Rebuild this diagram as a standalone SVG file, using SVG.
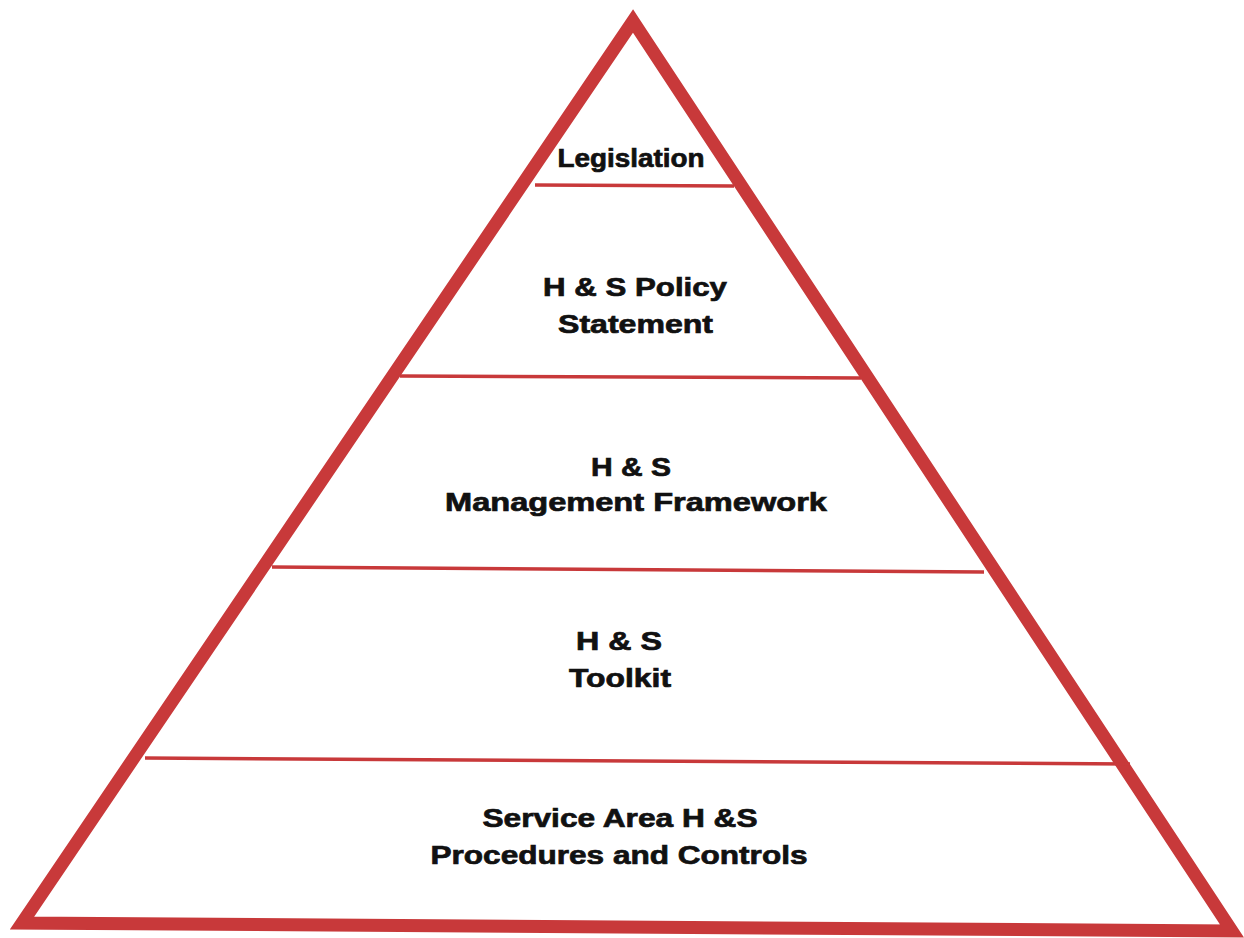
<svg xmlns="http://www.w3.org/2000/svg" width="1244" height="938" viewBox="0 0 1244 938">
<style>
.edge{fill:none;stroke:#c8393a;stroke-width:13;stroke-linejoin:miter;stroke-miterlimit:10}
.div{stroke:#c8393a;stroke-width:3.5;fill:none}
.lbl{font-family:"Liberation Sans",Arial,sans-serif;font-weight:bold;font-size:25.5px;fill:#111;stroke:#111;stroke-width:0.7;text-anchor:middle}
</style>
<rect width="1244" height="938" fill="#ffffff"/>
<g id="connectors">
<polygon class="edge" points="633,21 1232,931 22,923"/>
<line class="div" x1="535" y1="185" x2="734" y2="186"/>
<line class="div" x1="400" y1="376" x2="861" y2="378"/>
<line class="div" x1="272" y1="567" x2="984" y2="572"/>
<line class="div" x1="145" y1="758" x2="1130" y2="764"/>
</g>
<g id="legislation"><text class="lbl" x="631" y="167" textLength="147" lengthAdjust="spacingAndGlyphs">Legislation</text></g>
<g id="policy">
<text class="lbl" x="635" y="296" textLength="184" lengthAdjust="spacingAndGlyphs">H &amp; S Policy</text>
<text class="lbl" x="635.5" y="333" textLength="155" lengthAdjust="spacingAndGlyphs">Statement</text>
</g>
<g id="framework">
<text class="lbl" x="631" y="476" textLength="80" lengthAdjust="spacingAndGlyphs">H &amp; S</text>
<text class="lbl" x="636" y="511" textLength="382" lengthAdjust="spacingAndGlyphs">Management Framework</text>
</g>
<g id="toolkit">
<text class="lbl" x="619" y="650" textLength="86" lengthAdjust="spacingAndGlyphs">H &amp; S</text>
<text class="lbl" x="620" y="687" textLength="102" lengthAdjust="spacingAndGlyphs">Toolkit</text>
</g>
<g id="procedures">
<text class="lbl" x="620" y="827" textLength="275" lengthAdjust="spacingAndGlyphs">Service Area H &amp;S</text>
<text class="lbl" x="619" y="864" textLength="377" lengthAdjust="spacingAndGlyphs">Procedures and Controls</text>
</g>
</svg>
